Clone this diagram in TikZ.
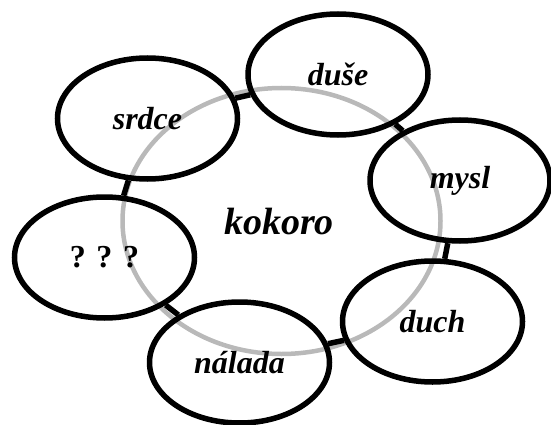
\documentclass[tikz,border=0pt]{standalone}
\usepackage{fontspec}
\setmainfont{Liberation Serif}
\usetikzlibrary{shapes.geometric}

\begin{document}
\begin{tikzpicture}[x=1pt,y=-1pt,
    part/.style={ellipse,draw,line width=5.5pt,minimum width=180pt,minimum height=121pt,
      inner sep=0pt,font=\fontsize{32}{36}\selectfont\bfseries\itshape},
    link/.style={line width=5.5pt}]
    \useasboundingbox (0,0) rectangle (551,425);
    \draw[gray!55,line width=4.5pt] (281.5,221) ellipse [x radius=159,y radius=133];
    \node[font=\fontsize{38}{44}\selectfont\bfseries\itshape] (kokoro) at (279,222) {kokoro};
    \node[part] (srdce) at (147.5,118.5) {srdce};
    \node[part] (duse) at (338,74.5) {duše};
    \node[part] (mysl) at (460,180.5) {mysl};
    \node[part] (duch) at (432.5,321.5) {duch};
    \node[part] (nalada) at (239.5,362.5) {nálada};
    \node[part,font=\fontsize{32}{36}\selectfont\bfseries] (otazka) at (104.5,257.5) {? ? ?};
    \draw[link] (srdce) -- (duse);
    \draw[link] (duse) -- (mysl);
    \draw[link] (mysl) -- (duch);
    \draw[link] (duch) -- (nalada);
    \draw[link] (nalada) -- (otazka);
    \draw[link] (otazka) -- (srdce);
\end{tikzpicture}
\end{document}
